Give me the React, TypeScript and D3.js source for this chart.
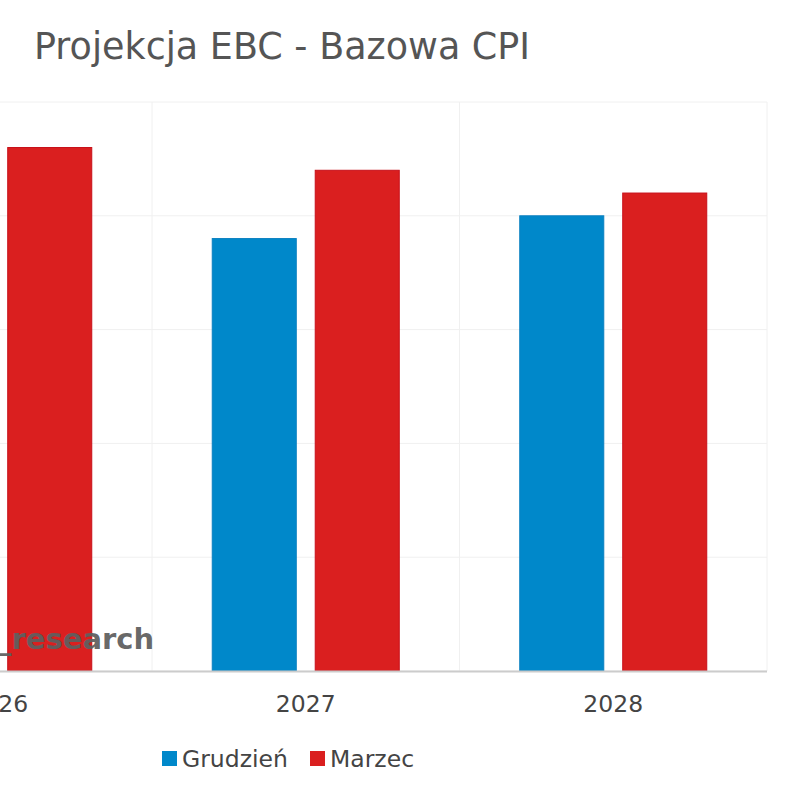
import React from "react";
import * as d3 from "d3";

const categories = ["2026", "2027", "2028"];
const seriesNames = ["Grudzień", "Marzec"];
const grudzien = [2.2, 1.9, 2.0];
const marzec = [2.3, 2.2, 2.1];
const yTicks = [0, 0.5, 1, 1.5, 2, 2.5];
const colors = ["#0088CA", "#DA1F1F"];
const strokes = ["#0a80c0", "#c8101a"];

export default function App() {
  const W = 800, H = 800;
  const plotRight = 767;
  const bandW = 307.5;
  const plotTop = 102, plotBottom = 671;
  const x = d3.scaleBand<string>().domain(categories).range([plotRight - bandW * categories.length, plotRight]).padding(0);
  const inner = d3.scaleBand<string>().domain(seriesNames).range([0, x.bandwidth()]).paddingInner(0.184).paddingOuter(0.585);
  const y = d3.scaleLinear().domain([0, 2.5]).range([plotBottom, plotTop]);
  const series = [grudzien, marzec];
  const font = "'DejaVu Sans', Verdana, sans-serif";

  return (
    <svg width={W} height={H} style={{ position: "absolute", left: 0, top: 0, background: "#fff" }} fontFamily={font}>
      <text x={34} y={59} fontSize={36.5} fill="#555">Projekcja EBC - Bazowa CPI</text>
      {yTicks.map((t) => (
        <line key={"h" + t} x1={x.range()[0]} x2={plotRight} y1={y(t)} y2={y(t)} stroke="#f0f0f0" strokeWidth={1} />
      ))}
      {categories.map((c) => (
        <line key={"v" + c} x1={x(c)!} x2={x(c)!} y1={plotTop} y2={plotBottom} stroke="#f0f0f0" strokeWidth={1} />
      ))}
      <line x1={plotRight} x2={plotRight} y1={plotTop} y2={plotBottom} stroke="#f0f0f0" strokeWidth={1} />
      {categories.map((c, i) =>
        seriesNames.map((s, j) => {
          const v = series[j][i];
          return (
            <rect
              key={c + s}
              x={x(c)! + inner(s)!}
              y={y(v)}
              width={inner.bandwidth()}
              height={y(0) - y(v)}
              fill={colors[j]}
              stroke={strokes[j]}
              strokeWidth={1}
            />
          );
        })
      )}
      <line x1={x.range()[0]} x2={plotRight} y1={plotBottom + 0.5} y2={plotBottom + 0.5} stroke="#ccc" strokeWidth={2} />
      {categories.map((c) => (
        <text key={"t" + c} x={x(c)! + x.bandwidth() / 2} y={712} fontSize={23.5} fill="#444" textAnchor="middle">{c}</text>
      ))}
      <text x={-3} y={649} fontSize={29} fontWeight="bold" fill="#5f5f5f" fillOpacity={0.95}>_research</text>
      {seriesNames.map((s, j) => {
        const lx = j === 0 ? 162 : 310;
        return (
          <g key={"l" + s}>
            <rect x={lx} y={751} width={15} height={15} fill={colors[j]} />
            <text x={lx + 20} y={767} fontSize={23.5} fill="#444">{s}</text>
          </g>
        );
      })}
    </svg>
  );
}
